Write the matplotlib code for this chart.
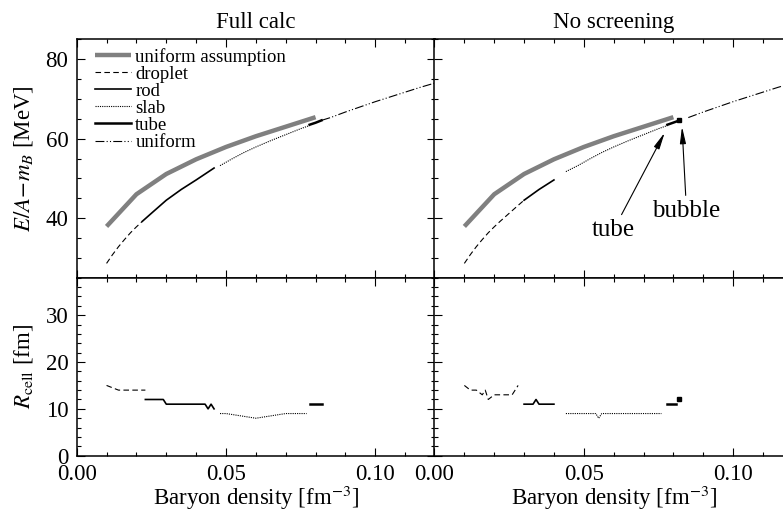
import matplotlib
matplotlib.use('Agg')
import matplotlib.pyplot as plt
from matplotlib.ticker import MultipleLocator, FormatStrFormatter

plt.rcParams['font.family'] = 'Liberation Serif'
plt.rcParams['mathtext.fontset'] = 'stix'

# energy per baryon, uniform assumption (same curve in both panels)
x_assump = [0.01, 0.02, 0.03, 0.04, 0.05, 0.06, 0.07, 0.08]
e_assump = [37.9, 46.0, 51.1, 54.8, 57.9, 60.6, 63.0, 65.4]

# Full calc: energy per baryon for each phase
full_x_droplet = [0.010, 0.012, 0.014, 0.016, 0.018, 0.020, 0.022]
full_e_droplet = [28.6, 30.8, 32.8, 34.6, 36.3, 37.8, 39.2]
full_x_rod = [0.022, 0.025, 0.030, 0.035, 0.040, 0.046]
full_e_rod = [39.2, 41.2, 44.5, 47.2, 49.6, 52.6]
full_x_slab = [0.048, 0.052, 0.056, 0.060, 0.065, 0.070, 0.075, 0.078]
full_e_slab = [53.2, 54.9, 56.5, 57.9, 59.5, 61.0, 62.5, 63.3]
full_x_tube = [0.078, 0.080, 0.082]
full_e_tube = [63.5, 64.0, 64.6]
full_x_unif = [0.082, 0.085, 0.090, 0.095, 0.100, 0.105, 0.110, 0.115, 0.120]
full_e_unif = [64.6, 65.3, 66.7, 68.0, 69.3, 70.5, 71.7, 72.9, 74.0]

# Full calc: cell radius
full_rx_droplet = [0.010, 0.014, 0.016, 0.018, 0.020, 0.023]
full_r_droplet = [15, 14, 14, 14, 14, 14]
full_rx_rod = [0.023, 0.029, 0.030, 0.035, 0.040, 0.043, 0.044, 0.045, 0.046]
full_r_rod = [12, 12, 11, 11, 11, 11, 10, 11, 10]
full_rx_slab = [0.048, 0.050, 0.060, 0.070, 0.077]
full_r_slab = [9, 9, 8, 9, 9]
full_rx_tube = [0.078, 0.082]
full_r_tube = [11, 11]

# No screening: energy per baryon
ns_x_droplet = [0.010, 0.012, 0.014, 0.016, 0.018, 0.020, 0.022, 0.025, 0.028, 0.030]
ns_e_droplet = [28.6, 30.8, 32.8, 34.6, 36.3, 37.8, 39.2, 41.2, 43.2, 44.5]
ns_x_rod = [0.030, 0.035, 0.040]
ns_e_rod = [44.5, 47.2, 49.6]
ns_x_slab = [0.044, 0.048, 0.052, 0.056, 0.060, 0.065, 0.070, 0.075, 0.078]
ns_e_slab = [51.7, 53.2, 54.9, 56.5, 57.9, 59.5, 61.0, 62.5, 63.3]
ns_x_tube = [0.078, 0.081]
ns_e_tube = [63.5, 64.3]
ns_x_bubble = [0.082]
ns_e_bubble = [64.7]
ns_x_unif = [0.085, 0.090, 0.095, 0.100, 0.105, 0.110, 0.115, 0.120]
ns_e_unif = [65.3, 66.7, 68.0, 69.3, 70.5, 71.7, 72.9, 74.0]

# No screening: cell radius
ns_rx_droplet = [0.010, 0.012, 0.014, 0.016, 0.017, 0.018, 0.020, 0.026, 0.028]
ns_r_droplet = [15, 14, 14, 13, 14, 12, 13, 13, 15]
ns_rx_rod = [0.030, 0.033, 0.034, 0.035, 0.040]
ns_r_rod = [11, 11, 12, 11, 11]
ns_rx_slab = [0.044, 0.054, 0.055, 0.056, 0.076]
ns_r_slab = [9, 9, 8, 9, 9]
ns_rx_tube = [0.078, 0.081]
ns_r_tube = [11, 11]
ns_rx_bubble = [0.082]
ns_r_bubble = [12]

# line styles
st_assump = dict(color='#808080', lw=3.2, solid_capstyle='butt')
st_droplet = dict(color='k', lw=0.8, ls=(0, (5, 3)))
st_rod = dict(color='k', lw=1.2)
st_slab = dict(color='k', lw=0.8, ls=(0, (1, 1)))
st_tube = dict(color='k', lw=1.8)
st_unif = dict(color='k', lw=0.8, ls=(0, (8, 2, 1, 2, 1, 2)))

W, H = 783, 514
fig = plt.figure(figsize=(W / 100, H / 100), dpi=100)

x0L, x0R, wpx = 76.7, 434.5, 358.3
top_y0, top_y1, bot_y1 = 39.3, 277.7, 455.7


def add_ax(xpx, ytop, ybot):
    return fig.add_axes([xpx / W, (H - ybot) / H, wpx / W, (ybot - ytop) / H])


axTL = add_ax(x0L, top_y0, top_y1)
axTR = add_ax(x0R, top_y0, top_y1)
axBL = add_ax(x0L, top_y1, bot_y1)
axBR = add_ax(x0R, top_y1, bot_y1)

for ax in (axTL, axTR, axBL, axBR):
    ax.set_xlim(0, 0.12)
    ax.xaxis.set_major_locator(MultipleLocator(0.05))
    ax.xaxis.set_minor_locator(MultipleLocator(0.01))
    ax.xaxis.set_major_formatter(FormatStrFormatter('%.2f'))
    ax.tick_params(which='both', direction='in', top=True, right=True,
                   labelsize=16.5, width=0.8, pad=6)
    ax.tick_params(which='major', length=6)
    ax.tick_params(which='minor', length=3)
    for sp in ax.spines.values():
        sp.set_linewidth(1.1)

for ax in (axTL, axTR):
    ax.set_ylim(25, 85)
    ax.yaxis.set_major_locator(MultipleLocator(20))
    ax.yaxis.set_minor_locator(MultipleLocator(5))
    ax.tick_params(labelbottom=False)
for ax in (axBL, axBR):
    ax.set_ylim(0, 38)
    ax.yaxis.set_major_locator(MultipleLocator(10))
    ax.yaxis.set_minor_locator(MultipleLocator(2))
    ax.set_xlabel('Baryon density [fm$^{-3}$]', fontsize=16.5, labelpad=-1)
for ax in (axTR, axBR):
    ax.tick_params(labelleft=False)

# top left: full calculation
axTL.plot(x_assump, e_assump, label='uniform assumption', **st_assump)
axTL.plot(full_x_droplet, full_e_droplet, label='droplet', **st_droplet)
axTL.plot(full_x_rod, full_e_rod, label='rod', **st_rod)
axTL.plot(full_x_slab, full_e_slab, label='slab', **st_slab)
axTL.plot(full_x_tube, full_e_tube, label='tube', **st_tube)
axTL.plot(full_x_unif, full_e_unif, label='uniform', **st_unif)
axTL.legend(loc='upper left', bbox_to_anchor=(0.05, 0.965), frameon=False,
            fontsize=13.5, labelspacing=0.0, handlelength=1.95,
            handletextpad=0.22, borderaxespad=0, borderpad=0)

# top right: no screening
axTR.plot(x_assump, e_assump, **st_assump)
axTR.plot(ns_x_droplet, ns_e_droplet, **st_droplet)
axTR.plot(ns_x_rod, ns_e_rod, **st_rod)
axTR.plot(ns_x_slab, ns_e_slab, **st_slab)
axTR.plot(ns_x_tube, ns_e_tube, **st_tube)
axTR.plot(ns_x_bubble, ns_e_bubble, 'ks', ms=2.2)
axTR.plot(ns_x_unif, ns_e_unif, **st_unif)
arrow = dict(arrowstyle='-|>,head_length=1.0,head_width=0.18', color='k',
             lw=0.8, mutation_scale=10, shrinkA=1, shrinkB=0)
axTR.annotate('tube', xy=(0.0771, 61.5), xytext=(0.060, 37.1), fontsize=18,
              ha='center', va='center', arrowprops=arrow)
axTR.annotate('bubble', xy=(0.0829, 63.0), xytext=(0.0844, 41.9), fontsize=18,
              ha='center', va='center', arrowprops=arrow)

# bottom: cell radius
axBL.plot(full_rx_droplet, full_r_droplet, **st_droplet)
axBL.plot(full_rx_rod, full_r_rod, **st_rod)
axBL.plot(full_rx_slab, full_r_slab, **st_slab)
axBL.plot(full_rx_tube, full_r_tube, **st_tube)

axBR.plot(ns_rx_droplet, ns_r_droplet, **st_droplet)
axBR.plot(ns_rx_rod, ns_r_rod, **st_rod)
axBR.plot(ns_rx_slab, ns_r_slab, **st_slab)
axBR.plot(ns_rx_tube, ns_r_tube, **st_tube)
axBR.plot(ns_rx_bubble, ns_r_bubble, 'ks', ms=2.2)

axTL.set_title('Full calc', fontsize=16.5, pad=8)
axTR.set_title('No screening', fontsize=16.5, pad=8)

axTL.set_ylabel('$E/A\\!-\\!m_B$ [MeV]', fontsize=16.5)
axBL.set_ylabel('$R_{\\rm cell}$ [fm]', fontsize=16.5)
axTL.yaxis.set_label_coords(-0.115, 0.5)
axBL.yaxis.set_label_coords(-0.115, 0.5)

fig.savefig('out.png', dpi=100)
